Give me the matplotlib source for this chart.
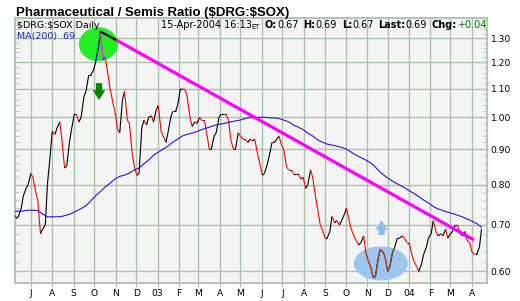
import numpy as np
import pandas as pd
import matplotlib
matplotlib.use("Agg")
import matplotlib.pyplot as plt
import matplotlib.dates as mdates
from matplotlib.collections import LineCollection
from matplotlib.patches import Ellipse, ArrowStyle
from matplotlib.ticker import FixedLocator, NullFormatter

# $DRG:$SOX ratio, Mondays and Thursdays
dates = pd.date_range("2002-06-06", "2004-04-15", freq="W-THU").union(
    pd.date_range("2002-06-10", "2004-04-12", freq="W-MON"))
ratio = [0.73, 0.715, 0.72, 0.74, 0.77, 0.79, 0.80, 0.83, 0.82, 0.78,
         0.76, 0.68, 0.69, 0.70, 0.80, 0.88, 0.955, 0.945, 0.965, 0.985,
         0.93, 0.845, 0.85, 0.92, 0.96, 1.01, 1.01, 0.985, 1.00, 1.07,
         1.09, 1.15, 1.15, 1.17, 1.20, 1.26, 1.32, 1.21, 1.22, 1.15,
         1.10, 1.05, 1.02, 0.96, 0.95, 1.06, 1.09, 0.99, 0.98, 0.89,
         0.85, 0.825, 0.83, 0.965, 0.99, 0.975, 1.00, 1.005, 0.985, 1.025,
         1.04, 0.955, 0.94, 0.92, 0.95, 1.00, 1.02, 1.02, 1.04, 1.10,
         1.10, 1.095, 1.07, 1.00, 0.97, 0.985, 0.98, 1.00, 0.99, 0.99,
         0.95, 0.90, 0.90, 0.94, 0.95, 1.00, 1.01, 1.01, 1.01, 0.99,
         0.93, 0.90, 0.90, 0.95, 0.94, 0.93, 0.93, 0.92, 0.93, 0.925,
         0.93, 0.885, 0.86, 0.825, 0.83, 0.855, 0.88, 0.92, 0.92, 0.93,
         0.94, 0.91, 0.90, 0.85, 0.84, 0.84, 0.83, 0.83, 0.83, 0.815,
         0.82, 0.79, 0.80, 0.84, 0.82, 0.77, 0.74, 0.70, 0.69, 0.67,
         0.67, 0.685, 0.72, 0.705, 0.71, 0.70, 0.71, 0.725, 0.74, 0.71,
         0.69, 0.675, 0.665, 0.655, 0.66, 0.675, 0.64, 0.62, 0.61, 0.588,
         0.59, 0.625, 0.645, 0.64, 0.63, 0.60, 0.61, 0.64, 0.65, 0.67,
         0.67, 0.675, 0.67, 0.66, 0.66, 0.635, 0.62, 0.61, 0.60, 0.615,
         0.635, 0.65, 0.67, 0.68, 0.71, 0.685, 0.675, 0.68, 0.675, 0.69,
         0.67, 0.68, 0.685, 0.70, 0.70, 0.68, 0.675, 0.685, 0.665, 0.66,
         0.64, 0.635, 0.635, 0.65, 0.69]

# 200-day moving average, weekly (Thursdays)
ma_dates = pd.date_range("2002-06-06", "2004-04-15", freq="W-THU")
ma200 = [0.731, 0.733, 0.733, 0.735, 0.735, 0.734, 0.726, 0.719, 0.719, 0.719,
         0.720, 0.723, 0.727, 0.733, 0.739, 0.746, 0.758, 0.771, 0.782, 0.794,
         0.804, 0.815, 0.822, 0.826, 0.831, 0.840, 0.845, 0.857, 0.868, 0.882,
         0.891, 0.900, 0.909, 0.921, 0.930, 0.940, 0.945, 0.949, 0.954, 0.960,
         0.965, 0.970, 0.975, 0.978, 0.981, 0.985, 0.988, 0.991, 0.996, 0.999,
         0.999, 1.000, 1.000, 0.998, 0.998, 0.996, 0.991, 0.985, 0.975, 0.968,
         0.960, 0.949, 0.940, 0.928, 0.921, 0.915, 0.912, 0.909, 0.905, 0.900,
         0.891, 0.882, 0.875, 0.868, 0.860, 0.848, 0.834, 0.823, 0.814, 0.806,
         0.799, 0.792, 0.784, 0.777, 0.769, 0.760, 0.753, 0.744, 0.738, 0.734,
         0.730, 0.727, 0.723, 0.719, 0.714, 0.709, 0.703, 0.695]

trend_dates = ["2002-10-09", "2002-11-02", "2004-04-04"]
trend_vals = [1.33, 1.292, 0.666]

month_starts = pd.date_range("2002-07-01", "2004-04-01", freq="MS")
month_labels = [d.strftime("%y") if d.month == 1 else d.strftime("%b")[0] for d in month_starts]
y_ticks = [0.60, 0.70, 0.80, 0.90, 1.00, 1.10, 1.20, 1.30]
y_minor = [0.58 + 0.02 * i for i in range(41)]

grid_c = "#abc3ab"
W, H = 520, 301

fig = plt.figure(figsize=(W / 100, H / 100), dpi=100)
ax = fig.add_axes([15 / W, 18 / H, 472 / W, 265 / H])
ax.set_facecolor("#f4f4f4")
ax.set_yscale("log")
ax.set_ylim(0.5774, 1.3898)
ax.set_xlim(pd.Timestamp("2002-06-08"), pd.Timestamp("2004-04-23"))

ax.set_yticks(y_ticks)
ax.set_yticklabels([f"{v:.2f}" for v in y_ticks])
ax.yaxis.set_minor_locator(FixedLocator(y_minor))
ax.yaxis.set_minor_formatter(NullFormatter())
ax.set_xticks(month_starts)
ax.set_xticklabels(month_labels)
ax.xaxis.set_minor_locator(FixedLocator([]))
ax.tick_params(axis="y", which="both", direction="in", left=True, right=True,
               labelleft=False, labelright=True, length=3, color=grid_c,
               labelsize=6.6, pad=2.5)
ax.tick_params(axis="x", direction="out", length=3, color=grid_c, labelsize=6.6, pad=1.5)
ax.grid(True, which="major", color=grid_c, lw=1.0)
ax.set_axisbelow(True)
for s in ax.spines.values():
    s.set_color(grid_c)
    s.set_linewidth(1.3)

x = mdates.date2num(dates)
y = np.array(ratio)
segs = np.stack([np.column_stack([x[:-1], y[:-1]]), np.column_stack([x[1:], y[1:]])], axis=1)
down = np.diff(y) < 0
lc = LineCollection(segs, colors=np.where(down, "#ff0000", "#000000"), lw=0.8, zorder=3)
ax.add_collection(lc)

ax.plot(ma_dates, ma200, color="#3311cc", lw=0.8, zorder=4)

# trendline: black stub from the peak, then magenta
td = pd.to_datetime(trend_dates)
ax.plot(td[:2], trend_vals[:2], color="black", lw=1.6, zorder=6, solid_capstyle="butt")
ax.plot(td[1:], trend_vals[1:], color="#ff00ff", lw=2.3, zorder=6, solid_capstyle="butt")


def to_axes(date, val):
    p = ax.transData.transform((mdates.date2num(pd.Timestamp(date)), val))
    return ax.transAxes.inverted().transform(p)


# green circle at the top
c_xy = to_axes("2002-10-07", 1.274)
circle = Ellipse(c_xy, 39 / 472, 34 / 265, transform=ax.transAxes,
                 color="#22ee22", zorder=2.5, lw=0)
ax.add_patch(circle)
lc_in = LineCollection(segs, colors=np.where(down, "#ff33ff", "#2233ff"), lw=0.8, zorder=5)
ax.add_collection(lc_in)
lc_in.set_clip_path(circle)

# light blue ellipse at the lows
e_xy = to_axes("2003-11-21", 0.616)
oval = Ellipse(e_xy, 54 / 472, 34 / 265, transform=ax.transAxes,
               color="#9ec4f0", zorder=2.5, lw=0)
ax.add_patch(oval)
lc_br = LineCollection(segs, colors="#8b4a14", lw=0.8, zorder=5)
ax.add_collection(lc_br)
lc_br.set_clip_path(oval)

arrow = ArrowStyle.Simple(head_length=0.7, head_width=0.9, tail_width=0.45)
ax.annotate("", xy=(pd.Timestamp("2002-10-08"), 1.059), xytext=(pd.Timestamp("2002-10-08"), 1.120),
            arrowprops=dict(arrowstyle=arrow, color="#008a00", mutation_scale=10,
                            shrinkA=0, shrinkB=0, lw=0), zorder=7)
ax.annotate("", xy=(pd.Timestamp("2003-11-22"), 0.711), xytext=(pd.Timestamp("2003-11-22"), 0.677),
            arrowprops=dict(arrowstyle=arrow, color="#8cbcf0", mutation_scale=10,
                            shrinkA=0, shrinkB=0, lw=0), zorder=7)

# texts
fig.text(16 / W, 1 - 15.7 / H, r"Pharmaceutical / Semis Ratio (\$DRG:\$SOX)",
         fontsize=9.5, fontweight="bold", family="Liberation Sans", va="baseline")
fig.text(17 / W, 1 - 28 / H, r"\$DRG:\$SOX Daily", fontsize=6.8, va="baseline")
fig.text(17 / W, 1 - 39.5 / H, "MA(200) .69", fontsize=6.8, va="baseline", color="#2020cc")

pieces = [("15-Apr-2004 16:13", "normal", "black", 7, 0),
          ("ET", "normal", "black", 4.8, 0),
          ("O:", "bold", "black", 7, 3.5),
          ("0.67", "normal", "black", 7, 0),
          ("H:", "bold", "black", 7, 3.5),
          ("0.69", "normal", "black", 7, 0),
          ("L:", "bold", "black", 7, 3.5),
          ("0.67", "normal", "black", 7, 0),
          ("Last:", "bold", "black", 7, 3.5),
          ("0.69", "normal", "black", 7, 0),
          ("Chg:", "bold", "black", 7, 3.5),
          ("+0.04", "normal", "#007a00", 7, 0)]
prev = None
for txt, wt, col, sz, gap in pieces:
    if prev is None:
        prev = fig.text(161 / W, 1 - 28 / H, txt, fontsize=sz, fontweight=wt, color=col, va="baseline")
    else:
        prev = ax.annotate(txt, xy=(1, 0), xycoords=prev, xytext=(gap, 0), textcoords="offset points",
                           fontsize=sz, fontweight=wt, color=col, va="bottom", ha="left")

fig.savefig("out.png", dpi=100)
